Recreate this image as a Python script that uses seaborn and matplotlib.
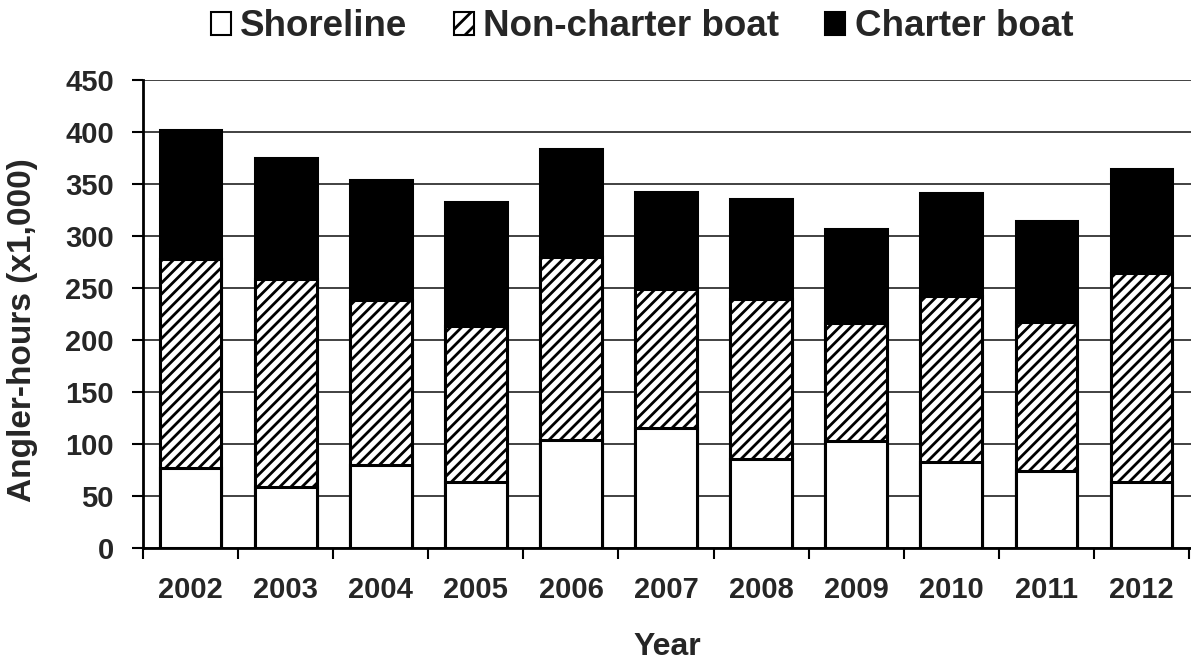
import matplotlib
matplotlib.use("Agg")
import matplotlib.pyplot as plt
from matplotlib.patches import Patch
from matplotlib.ticker import FixedLocator
import numpy as np
import pandas as pd
import seaborn as sns

years = ['2002', '2003', '2004', '2005', '2006', '2007', '2008', '2009', '2010', '2011', '2012']
shoreline = [77, 59, 80, 63, 104, 115, 86, 103, 83, 74, 63]
non_charter = [201, 200, 158, 150, 176, 134, 153, 113, 159, 143, 201]
charter = [124, 116, 116, 120, 104, 93, 97, 91, 99, 97, 100]

df = pd.DataFrame({'Year': years, 'Shoreline': shoreline,
                   'Non-charter boat': non_charter, 'Charter boat': charter})
df['shore_non'] = df['Shoreline'] + df['Non-charter boat']
df['total'] = df['shore_non'] + df['Charter boat']

sns.set_style("white")
plt.rcParams['font.family'] = ['Liberation Sans', 'DejaVu Sans']
plt.rcParams['font.weight'] = 'bold'
plt.rcParams['hatch.linewidth'] = 2.0
plt.rcParams['hatch.color'] = 'black'

fig = plt.figure(figsize=(11.91, 6.6), dpi=100)
ax = fig.add_axes([143 / 1191, 1 - 548 / 660, 1048 / 1191, 468 / 660])

w = 0.65
# stacked bars drawn as cumulative totals, largest first
sns.barplot(data=df, x='Year', y='total', color='black', edgecolor='black',
            linewidth=2.2, width=w, ax=ax, saturation=1, zorder=3)
sns.barplot(data=df, x='Year', y='shore_non', color='white', edgecolor='black',
            linewidth=2.2, width=w, hatch='///', ax=ax, saturation=1, zorder=3)
sns.barplot(data=df, x='Year', y='Shoreline', color='white', edgecolor='black',
            linewidth=2.2, width=w, ax=ax, saturation=1, zorder=3)

ax.set_ylim(0, 450)
ax.set_xlim(-0.5, len(years) - 0.5 + 0.02)
ax.set_yticks(np.arange(0, 451, 50))
ax.yaxis.grid(True, color='#333333', linewidth=1.3, zorder=0)
ax.set_axisbelow(True)

for s in ['top', 'right']:
    ax.spines[s].set_visible(False)
for s in ['left', 'bottom']:
    ax.spines[s].set_linewidth(2)
    ax.spines[s].set_color('black')

ax.tick_params(axis='y', which='major', direction='out', length=8, width=1.5,
               color='black', pad=13, labelsize=21, left=True)
ax.tick_params(axis='x', which='major', length=0, pad=20, labelsize=21)
ax.xaxis.set_minor_locator(FixedLocator(np.arange(-0.5, len(years) - 0.4, 1)))
ax.tick_params(axis='x', which='minor', direction='out', length=8, width=1.5,
               color='black', bottom=True)
for lab in ax.get_xticklabels() + ax.get_yticklabels():
    lab.set_fontweight('bold')

ax.set_xlabel('Year', fontsize=23, fontweight='bold')
ax.xaxis.set_label_coords(0.5, (548 - 632) / 468)
ax.set_ylabel('Angler-hours (x1,000)', fontsize=24, fontweight='bold')
ax.yaxis.set_label_coords((23 - 143) / 1048, (548 - 330) / 468)
ax.yaxis.label.set_va('center')

handles = [Patch(facecolor='white', edgecolor='black', linewidth=1.5),
           Patch(facecolor='white', edgecolor='black', linewidth=1.5, hatch='//'),
           Patch(facecolor='black', edgecolor='black', linewidth=1.5)]
fig.legend(handles, ['Shoreline', 'Non-charter boat', 'Charter boat'],
           loc='center', bbox_to_anchor=(642 / 1191, 1 - 27 / 660), ncol=3,
           frameon=False, prop={'size': 26.5, 'weight': 'bold'},
           handlelength=0.55, handleheight=0.55, handletextpad=0.25,
           columnspacing=1.25)

fig.savefig('out.png', dpi=100)
